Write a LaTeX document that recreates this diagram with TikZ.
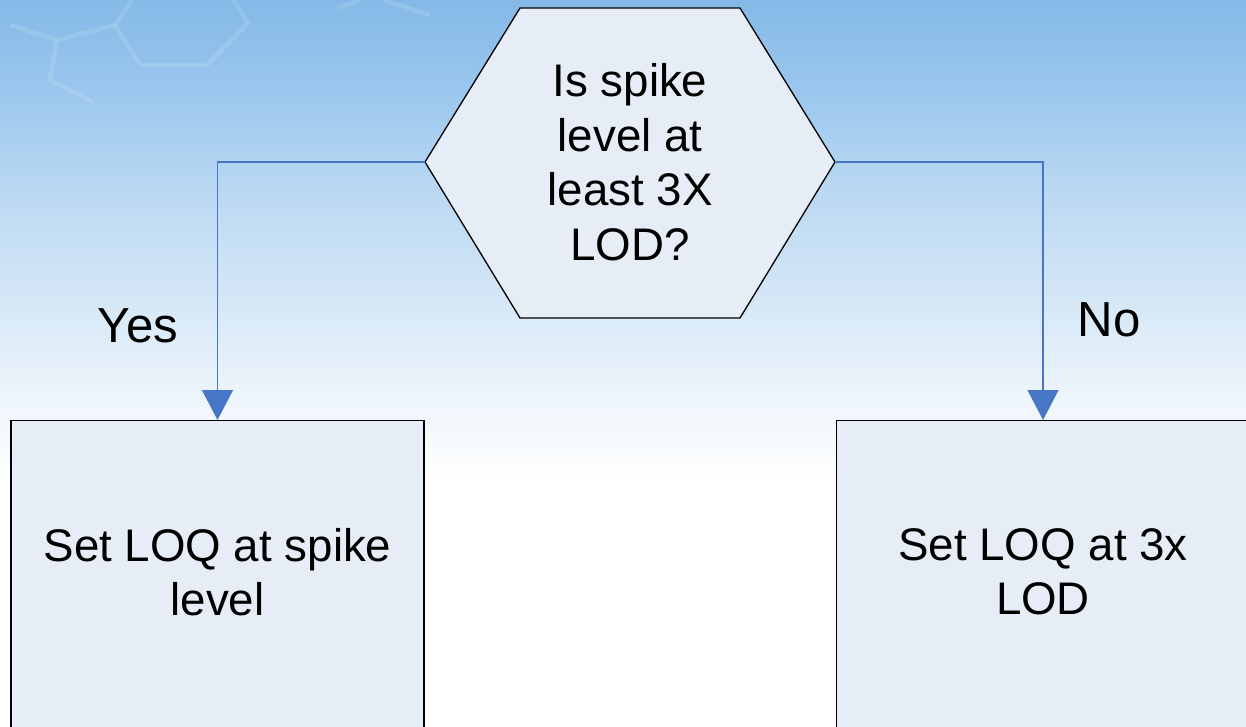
\documentclass[tikz,border=0pt]{standalone}
\usepackage{fontspec}
\setmainfont{Liberation Sans}
\usepackage{tikz}
\usetikzlibrary{arrows.meta, positioning}
\definecolor{skytop}{RGB}{132,185,231}
\definecolor{skyhigh}{RGB}{157,200,238}
\definecolor{skymid}{RGB}{186,216,242}
\definecolor{skylow}{RGB}{213,231,246}
\definecolor{skyfaint}{RGB}{238,245,252}
\definecolor{boxfill}{RGB}{231,237,247}
\definecolor{linkblue}{RGB}{72,118,198}
\pgfdeclareverticalshading{skyfade}{100bp}{color(0bp)=(white); color(41.9bp)=(white);
  color(47.5bp)=(skyfaint); color(54.3bp)=(skylow); color(61.9bp)=(skymid);
  color(68.1bp)=(skyhigh); color(75bp)=(skytop); color(100bp)=(skytop)}
\tikzset{
  bigtext/.style={font=\fontsize{26}{31}\selectfont, text=black},
  decision/.style={draw=black, fill=boxfill, line width=0.75pt, line join=miter},
  qtext/.style={bigtext, align=center, inner sep=0pt},
  outbox/.style={rectangle, draw=black, fill=boxfill, line width=0.75pt,
    minimum width=8.26cm, minimum height=6.6cm, anchor=north},
  boxtext/.style={bigtext, align=center, inner sep=0pt},
  link/.style={-{Triangle[length=0.6cm, width=0.62cm]}, draw=linkblue,
    line width=0.7pt},
  answer/.style={font=\fontsize{28}{32}\selectfont, inner sep=0pt},
  ghost/.style={draw=white, draw opacity=0.12, line width=2.5pt, line join=round}
}
\begin{document}
\begin{tikzpicture}[x=0.02cm, y=-0.02cm]
  \useasboundingbox (0,0) rectangle (1246,726);
  \clip (0,0) rectangle (1246,726);

  % sky background
  \shade[shading=skyfade] (0,0) rectangle (1246,726);
  \draw[ghost] (10,25) -- (57,40) -- (115,25) -- (132,0);
  \draw[ghost] (115,25) -- (140,65) -- (207,65) -- (248,23) -- (233,0);
  \draw[ghost] (57,40) -- (50,80) -- (93,102);
  \draw[ghost] (337,8) -- (360,0);
  \draw[ghost] (383,0) -- (430,15);

  % decision hexagon
  \coordinate (qW) at (425,162);
  \coordinate (qE) at (835,162);
  \draw[decision] (qW) -- (520,8) -- (740,8) -- (qE) -- (740,318) -- (520,318) -- cycle;
  \node[qtext] (q) at (630,162) {Is spike\\level at\\least 3X\\LOD?};

  % outcome boxes
  \node[outbox] (lbox) at (217.5,420) {};
  \node[outbox] (rbox) at (1043,420) {};
  \node[boxtext] (ltext) at ([yshift=-3.04cm]lbox.north) {Set LOQ at spike\\level};
  \node[boxtext] (rtext) at ([yshift=-3.04cm]rbox.north) {Set LOQ at 3x\\LOD};

  % branches
  \draw[link] (qW) -| (lbox.north);
  \draw[link] (qE) -| (rbox.north);
  \node[answer] (yes) at (138,326) {Yes};
  \node[answer] (no) at (1109,320) {No};
\end{tikzpicture}
\end{document}
